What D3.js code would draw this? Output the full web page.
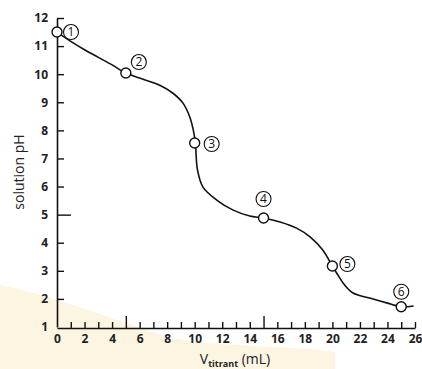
<!DOCTYPE html>
<html>
<head>
<meta charset="utf-8">
<script src="https://cdn.jsdelivr.net/npm/d3@7"></script>
<style>
  body { margin: 0; background: #fff; }
  svg { display: block; }
  .tick text { font-family: "Open Sans", "DejaVu Sans", sans-serif; font-weight: 700; font-size: 12px; fill: #222; }
  .axis-title { font-family: "Open Sans", "DejaVu Sans", sans-serif; font-size: 14px; fill: #222; }
</style>
</head>
<body>
<svg id="chart" width="422" height="369"></svg>
<script>
// titration curve (mL, pH)
const volume = [0, 1, 2, 3, 4, 5, 6, 7.5, 8.4, 9.15, 9.65, 9.9, 10.05, 10.2, 10.6, 11.6, 12.8, 14, 15, 16.2, 17.4, 18.4, 19.3, 20, 20.4, 20.9, 21.5, 22.7, 24, 25, 25.9];
const ph     = [11.5, 11.17, 10.87, 10.6, 10.33, 10.04, 9.86, 9.6, 9.33, 8.97, 8.47, 8.01, 7.55, 6.6, 5.98, 5.52, 5.16, 4.95, 4.88, 4.74, 4.52, 4.2, 3.74, 3.17, 2.85, 2.49, 2.21, 2.03, 1.85, 1.72, 1.75];

// marked points
const markVolume = [0, 5, 10, 15, 20, 25];
const markPh     = [11.5, 10.04, 7.55, 4.88, 3.17, 1.72];
const markNames  = ["1", "2", "3", "4", "5", "6"];

const xTicks = d3.range(0, 27);
const yTicks = d3.range(1, 13);

// where each circled number sits relative to its point
const labelOffsets = [[14, 0], [13, -11], [17, 1], [0, -19], [15, -2], [0, -15]];

const svg = d3.select('#chart');

// faint watermark band from the scan
svg.append('path')
    .attr('d', 'M0,285 C50,295 110,318 170,338 C230,348 290,345 335,352 L335,369 L0,369 Z')
    .attr('fill', '#fcf5e2');

const x = d3.scaleLinear().domain([0, 26]).range([57, 415]);
const y = d3.scaleLinear().domain([1, 12]).range([327, 18]);

// y axis
const yAxis = svg.append('g')
    .attr('transform', 'translate(57,0)')
    .call(d3.axisLeft(y).tickValues(yTicks).tickSize(-7).tickSizeOuter(0).tickPadding(9));
yAxis.select('.domain').attr('stroke', '#111').attr('stroke-width', 1.6);
yAxis.selectAll('.tick line').attr('stroke', '#111').attr('stroke-width', 1.4)
    .attr('x2', d => d === 5 ? 14 : 7);
yAxis.selectAll('.tick').filter(d => d === 1).select('line').remove();

// x axis
const xAxis = svg.append('g')
    .attr('transform', 'translate(0,328)')
    .call(d3.axisBottom(x).tickValues(xTicks).tickSize(-6).tickSizeOuter(0).tickPadding(8)
        .tickFormat(d => d % 2 === 0 ? d : ''));
xAxis.select('.domain').attr('stroke', '#111').attr('stroke-width', 1.6);
xAxis.selectAll('.tick line').attr('stroke', '#111').attr('stroke-width', 1.4)
    .attr('y2', d => (d === 5 || d === 15) ? -12 : -6);
xAxis.selectAll('.tick').filter(d => d === 0).select('line').remove();
xAxis.selectAll('.tick text').attr('dy', '0.6em');

// axis titles
svg.append('text')
    .attr('class', 'axis-title')
    .attr('transform', 'translate(24,172) rotate(-90)')
    .attr('text-anchor', 'middle')
    .text('solution pH');

const xt = svg.append('text')
    .attr('class', 'axis-title')
    .attr('x', 235)
    .attr('y', 364)
    .attr('text-anchor', 'middle');
xt.append('tspan').text('V');
xt.append('tspan').attr('font-size', '9px').attr('font-weight', 700).attr('dy', 3).text('titrant');
xt.append('tspan').attr('dy', -3).text(' (mL)');

// curve
const curveData = volume.map((v, i) => ({v: v, p: ph[i]}));
svg.append('path')
    .datum(curveData)
    .attr('d', d3.line().x(d => x(d.v)).y(d => y(d.p)).curve(d3.curveCatmullRom.alpha(0.5)))
    .attr('fill', 'none')
    .attr('stroke', '#111')
    .attr('stroke-width', 1.6);

// markers
const marks = markVolume.map((v, i) => ({v: v, p: markPh[i], name: markNames[i], off: labelOffsets[i]}));
svg.selectAll('.mark')
    .data(marks)
    .enter()
    .append('circle')
    .attr('class', 'mark')
    .attr('cx', d => x(d.v))
    .attr('cy', d => y(d.p))
    .attr('r', 5)
    .attr('fill', '#fff')
    .attr('stroke', '#111')
    .attr('stroke-width', 1.4);

// circled numbers
const labels = svg.selectAll('.mark-label')
    .data(marks)
    .enter()
    .append('g')
    .attr('class', 'mark-label')
    .attr('transform', d => 'translate(' + (x(d.v) + d.off[0]) + ',' + (y(d.p) + d.off[1]) + ')');
labels.append('circle')
    .attr('r', 7.5)
    .attr('fill', '#fff')
    .attr('stroke', '#111')
    .attr('stroke-width', 1.1);
labels.append('text')
    .attr('text-anchor', 'middle')
    .attr('dy', '0.36em')
    .attr('font-family', '"Open Sans", "DejaVu Sans", sans-serif')
    .attr('font-size', '12px')
    .attr('fill', '#111')
    .text(d => d.name);
</script>
</body>
</html>
